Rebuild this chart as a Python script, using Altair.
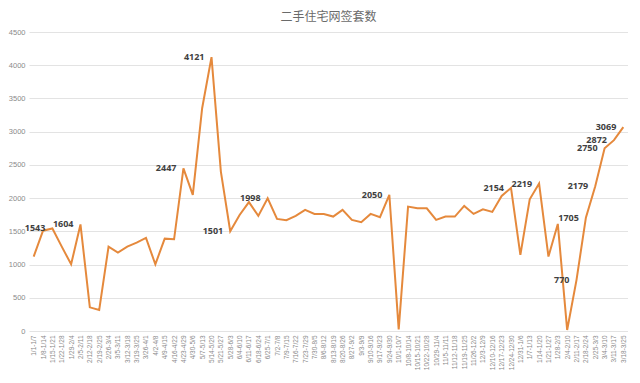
import altair as alt
import pandas as pd

weeks = [
    "1/1-1/7", "1/8-1/14", "1/15-1/21", "1/22-1/28", "1/29-2/4", "2/5-2/11",
    "2/12-2/18", "2/19-2/25", "2/26-3/4", "3/5-3/11", "3/12-3/18", "3/19-3/25",
    "3/26-4/1", "4/2-4/8", "4/9-4/15", "4/16-4/22", "4/23-4/29", "4/30-5/6",
    "5/7-5/13", "5/14-5/20", "5/21-5/27", "5/28-6/3", "6/4-6/10", "6/11-6/17",
    "6/18-6/24", "6/25-7/1", "7/2-7/8", "7/9-7/15", "7/16-7/22", "7/23-7/29",
    "7/30-8/5", "8/6-8/12", "8/13-8/19", "8/20-8/26", "8/27-9/2", "9/3-9/9",
    "9/10-9/16", "9/17-9/23", "9/24-9/30", "10/1-10/7", "10/8-10/14",
    "10/15-10/21", "10/22-10/28", "10/29-11/4", "11/5-11/11", "11/12-11/18",
    "11/19-11/25", "11/26-12/2", "12/3-12/9", "12/10-12/16", "12/17-12/23",
    "12/24-12/30", "12/31-1/6", "1/7-1/13", "1/14-1/20", "1/21-1/27",
    "1/28-2/3", "2/4-2/10", "2/11-2/17", "2/18-2/24", "2/25-3/3", "3/4-3/10",
    "3/11-3/17", "3/18-3/25",
]

values = [
    1120, 1510, 1543, 1270, 1004, 1604, 356, 316, 1270, 1180, 1270, 1330,
    1400, 1004, 1390, 1380, 2447, 2048, 3353, 4121, 2400, 1501, 1747, 1940,
    1732, 1998, 1687, 1667, 1732, 1822, 1762, 1762, 1722, 1822, 1672, 1637,
    1762, 1712, 2050, 25, 1872, 1847, 1847, 1672, 1722, 1722, 1882, 1762,
    1832, 1792, 2033, 2154, 1145, 1983, 2219, 1120, 1611, 15, 770, 1705,
    2179, 2750, 2872, 3069,
]

labeled_idx = [2, 5, 16, 19, 21, 25, 38, 51, 54, 58, 59, 60, 61, 62, 63]

df = pd.DataFrame({"week": weeks, "value": values})
df["label"] = [str(v) if i in labeled_idx else "" for i, v in enumerate(values)]

x = alt.X(
    "week:N",
    sort=weeks,
    title=None,
    axis=alt.Axis(
        labelAngle=270,
        labelFontSize=6.5,
        labelColor="#8a8a8a",
        labelFont="Liberation Sans",
        ticks=False,
        domain=False,
        grid=False,
        labelPadding=4,
        labelOverlap=False,
    ),
)
y = alt.Y(
    "value:Q",
    title=None,
    scale=alt.Scale(domain=[0, 4500], nice=False),
    axis=alt.Axis(
        values=list(range(0, 4501, 500)),
        format="d",
        labelFontSize=7.5,
        labelColor="#8a8a8a",
        labelFont="Liberation Sans",
        ticks=False,
        domain=False,
        gridColor="#e3e3e3",
        gridWidth=1,
        labelPadding=4,
    ),
)

line = alt.Chart(df).mark_line(color="#E5893C", strokeWidth=2).encode(x=x, y=y)

text = (
    alt.Chart(df)
    .mark_text(
        align="right",
        baseline="middle",
        dx=-7,
        fontSize=9,
        fontWeight="bold",
        font="Open Sans",
        color="#404040",
    )
    .encode(x=x, y=y, text="label:N")
)

chart = (
    alt.layer(line, text)
    .properties(
        width=599,
        height=299,
        padding={"left": 0, "right": 0, "top": 3, "bottom": 0},
        title=alt.TitleParams(
            "二手住宅网签套数",
            font="Noto Sans CJK SC",
            fontSize=12,
            fontWeight="normal",
            color="#6a6a6a",
            offset=4,
            anchor="middle",
        ),
    )
    .configure_view(stroke=None)
    .configure_scale(pointPadding=0.5)
)

chart.save("out.html", embed_options={"renderer": "svg", "actions": False})
